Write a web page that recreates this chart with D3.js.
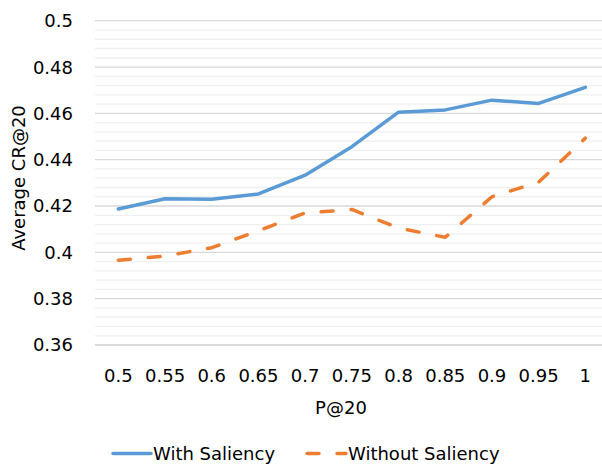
<!DOCTYPE html>
<html><head><meta charset="utf-8">
<script src="https://cdn.jsdelivr.net/npm/d3@7"></script>
<style>body{margin:0;background:#fff}svg{display:block}text{font-family:"DejaVu Sans",sans-serif;fill:#000}</style>
</head><body><svg id="c" width="602" height="466"></svg>
<script>
const categories = ["0.5","0.55","0.6","0.65","0.7","0.75","0.8","0.85","0.9","0.95","1"];
const withSaliency = [0.4187,0.4231,0.4229,0.4252,0.4333,0.4456,0.4605,0.4615,0.4657,0.4643,0.4712];
const withoutSaliency = [0.3966,0.3984,0.4020,0.4093,0.4170,0.4185,0.4105,0.4065,0.4240,0.4303,0.4493];
const yTicks = [0.36,0.38,0.40,0.42,0.44,0.46,0.48,0.50];
const yTickLabels = ["0.36","0.38","0.4","0.42","0.44","0.46","0.48","0.5"];
const seriesNames = ["With Saliency","Without Saliency"];
const colors = ["#5b9bd5","#ed7d31"];

const FS = 18;
const svg = d3.select("#c");
const x = d3.scaleBand().domain(categories).range([95, 608.7]);
const y = d3.scaleLinear().domain([0.36, 0.5]).range([345, 20.7]);
const cx = d => x(d) + x.bandwidth()/2;

// minor gridlines
const minor = d3.range(0, 36).map(i => 0.36 + i*0.004).filter((v,i)=> i%5 !== 0);
svg.append("g").selectAll("line").data(minor).join("line")
  .attr("x1",95).attr("x2",602).attr("y1",d=>y(d)).attr("y2",d=>y(d))
  .attr("stroke","#f0f0f0").attr("stroke-width",1.3);
svg.append("g").selectAll("line").data(yTicks).join("line")
  .attr("x1",95).attr("x2",602).attr("y1",d=>y(d)).attr("y2",d=>y(d))
  .attr("stroke",(d,i)=> i===0 ? "#d0d0d0" : "#d9d9d9").attr("stroke-width",1.3);

// y tick labels
svg.append("g").selectAll("text").data(yTicks).join("text")
  .attr("x",73).attr("y",d=>y(d)).attr("dy","0.36em").attr("text-anchor","end")
  .attr("font-size",FS).text((d,i)=>yTickLabels[i]);

// x tick labels
svg.append("g").selectAll("text").data(categories).join("text")
  .attr("x",d=>cx(d)).attr("y",381.5).attr("text-anchor","middle")
  .attr("font-size",FS).text(d=>d);

// axis titles
svg.append("text").attr("x",341).attr("y",414).attr("text-anchor","middle")
  .attr("font-size",FS).text("P@20");
svg.append("text").attr("transform","translate(25,178) rotate(-90)").attr("text-anchor","middle")
  .attr("font-size",FS).text("Average CR@20");

const line = d3.line().x((d,i)=>cx(categories[i])).y(d=>y(d));
svg.append("path").datum(withSaliency).attr("d",line).attr("fill","none")
  .attr("stroke",colors[0]).attr("stroke-width",3.5).attr("stroke-linejoin","round").attr("stroke-linecap","round");
svg.append("path").datum(withoutSaliency).attr("d",line).attr("fill","none")
  .attr("stroke",colors[1]).attr("stroke-width",3.5).attr("stroke-dasharray","12,18")
  .attr("stroke-linejoin","round").attr("stroke-linecap","round");

// legend
const lg = svg.append("g");
lg.append("line").attr("x1",113).attr("x2",151).attr("y1",453.5).attr("y2",453.5)
  .attr("stroke",colors[0]).attr("stroke-width",3.5).attr("stroke-linecap","round");
lg.append("text").attr("x",153).attr("y",459.5).attr("font-size",FS).text(seriesNames[0]);
lg.append("line").attr("x1",307).attr("x2",346).attr("y1",453.5).attr("y2",453.5)
  .attr("stroke",colors[1]).attr("stroke-width",3.5).attr("stroke-dasharray","12,18").attr("stroke-linecap","round");
lg.append("text").attr("x",348).attr("y",459.5).attr("font-size",FS).text(seriesNames[1]);
</script></body></html>
